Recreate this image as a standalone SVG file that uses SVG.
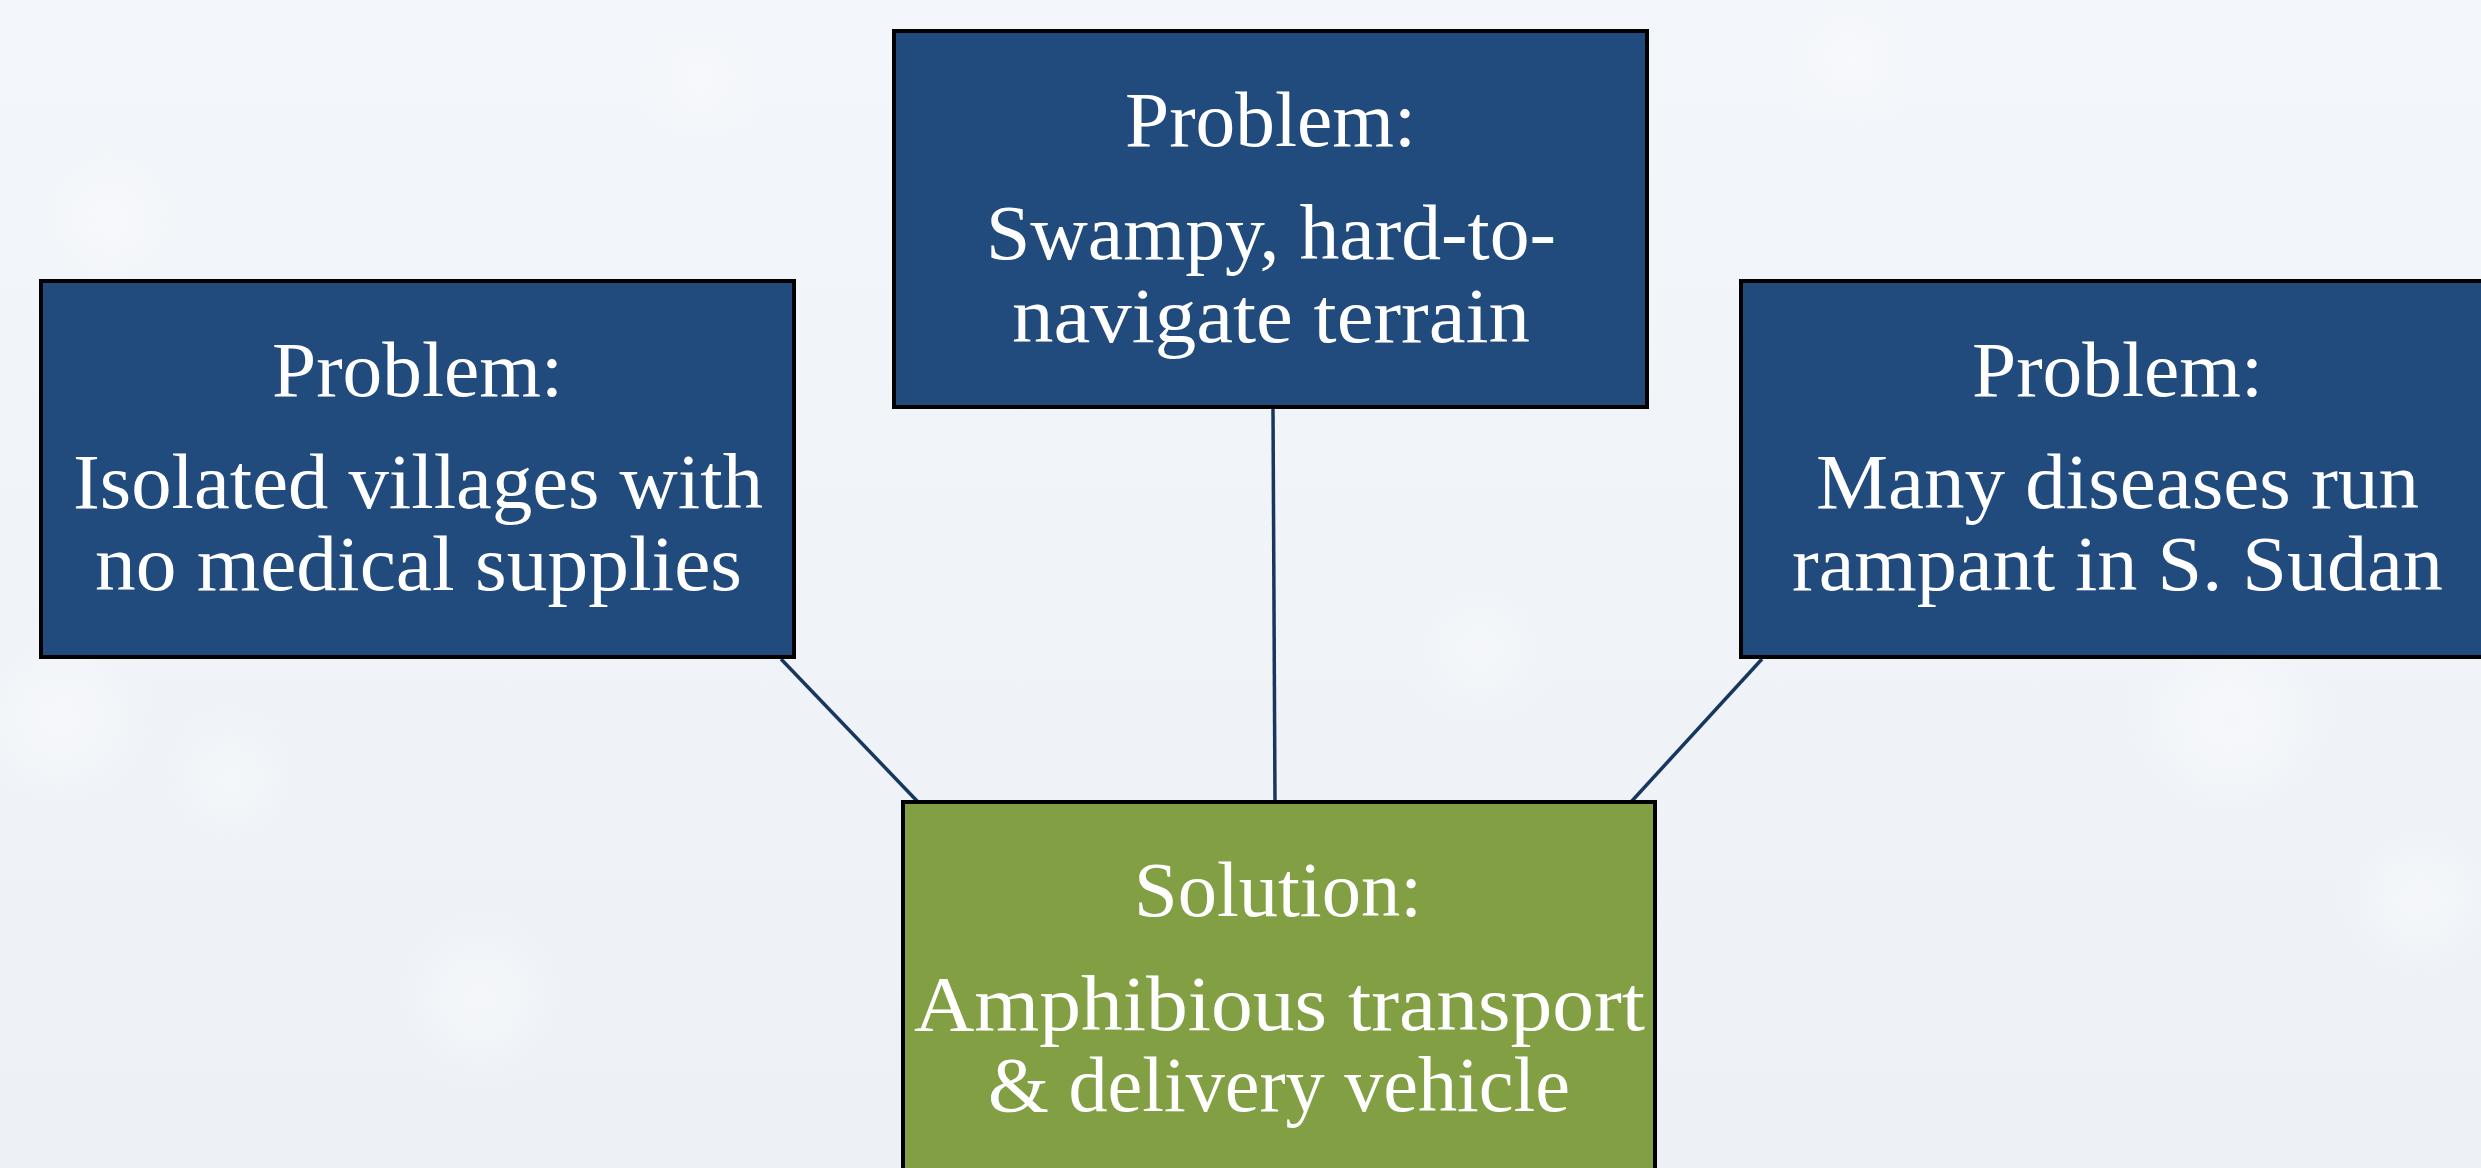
<svg xmlns="http://www.w3.org/2000/svg" width="2481" height="1168" viewBox="0 0 2481 1168">
  <defs>
    <linearGradient id="bg" x1="0" y1="0" x2="0" y2="1">
      <stop offset="0" stop-color="#f3f6fa"/>
      <stop offset="1" stop-color="#edf1f6"/>
    </linearGradient>
    <filter id="blur" x="-50%" y="-50%" width="200%" height="200%">
      <feGaussianBlur stdDeviation="22"/>
    </filter>
    <style>
      .prob { fill: #214a7d; stroke: #000000; stroke-width: 4; }
      .sol { fill: #82a043; stroke: #000000; stroke-width: 4; }
      .t { font-family: "Liberation Serif", "Times New Roman", serif; font-size: 78px; fill: #ffffff; text-anchor: middle; }
      .conn { stroke: #17375e; stroke-width: 3.5; fill: none; }
      .blob { fill: #ffffff; opacity: 0.35; filter: url(#blur); }
    </style>
  </defs>

  <rect x="0" y="0" width="2481" height="1168" fill="url(#bg)"/>
  <g id="background-bokeh">
    <circle class="blob" cx="60" cy="720" r="60"/>
    <circle class="blob" cx="230" cy="780" r="40"/>
    <circle class="blob" cx="480" cy="1000" r="55"/>
    <circle class="blob" cx="110" cy="220" r="45"/>
    <circle class="blob" cx="1480" cy="650" r="40"/>
    <circle class="blob" cx="2230" cy="720" r="70"/>
    <circle class="blob" cx="2420" cy="900" r="50"/>
    <circle class="blob" cx="1850" cy="60" r="40"/>
    <circle class="blob" cx="700" cy="80" r="35"/>
  </g>

  <g id="connectors">
    <line class="conn" x1="781" y1="659" x2="918" y2="802"/>
    <line class="conn" x1="1273" y1="409" x2="1275" y2="802"/>
    <line class="conn" x1="1762" y1="659" x2="1631" y2="802"/>
  </g>

  <g id="node-top">
    <rect class="prob" x="894" y="31" width="753" height="376"/>
    <text class="t" x="1270.5" y="146" textLength="291" lengthAdjust="spacingAndGlyphs">Problem:</text>
    <text class="t" x="1271" y="259" textLength="570" lengthAdjust="spacingAndGlyphs">Swampy, hard-to-</text>
    <text class="t" x="1271" y="342" textLength="518" lengthAdjust="spacingAndGlyphs">navigate terrain</text>
  </g>

  <g id="node-left">
    <rect class="prob" x="41" y="281" width="753" height="376"/>
    <text class="t" x="417.5" y="396" textLength="291" lengthAdjust="spacingAndGlyphs">Problem:</text>
    <text class="t" x="418" y="508" textLength="690" lengthAdjust="spacingAndGlyphs">Isolated villages with</text>
    <text class="t" x="418.5" y="590" textLength="647" lengthAdjust="spacingAndGlyphs">no medical supplies</text>
  </g>

  <g id="node-right">
    <rect class="prob" x="1741" y="281" width="753" height="376"/>
    <text class="t" x="2117.5" y="396" textLength="291" lengthAdjust="spacingAndGlyphs">Problem:</text>
    <text class="t" x="2117.5" y="508" textLength="603" lengthAdjust="spacingAndGlyphs">Many diseases run</text>
    <text class="t" x="2117.5" y="590" textLength="651" lengthAdjust="spacingAndGlyphs">rampant in S. Sudan</text>
  </g>

  <g id="node-solution">
    <rect class="sol" x="903" y="802" width="752" height="380"/>
    <text class="t" x="1278" y="916" textLength="288" lengthAdjust="spacingAndGlyphs">Solution:</text>
    <text class="t" x="1279.5" y="1030" textLength="731" lengthAdjust="spacingAndGlyphs">Amphibious transport</text>
    <text class="t" x="1279" y="1111" textLength="582" lengthAdjust="spacingAndGlyphs">&amp; delivery vehicle</text>
  </g>
</svg>
